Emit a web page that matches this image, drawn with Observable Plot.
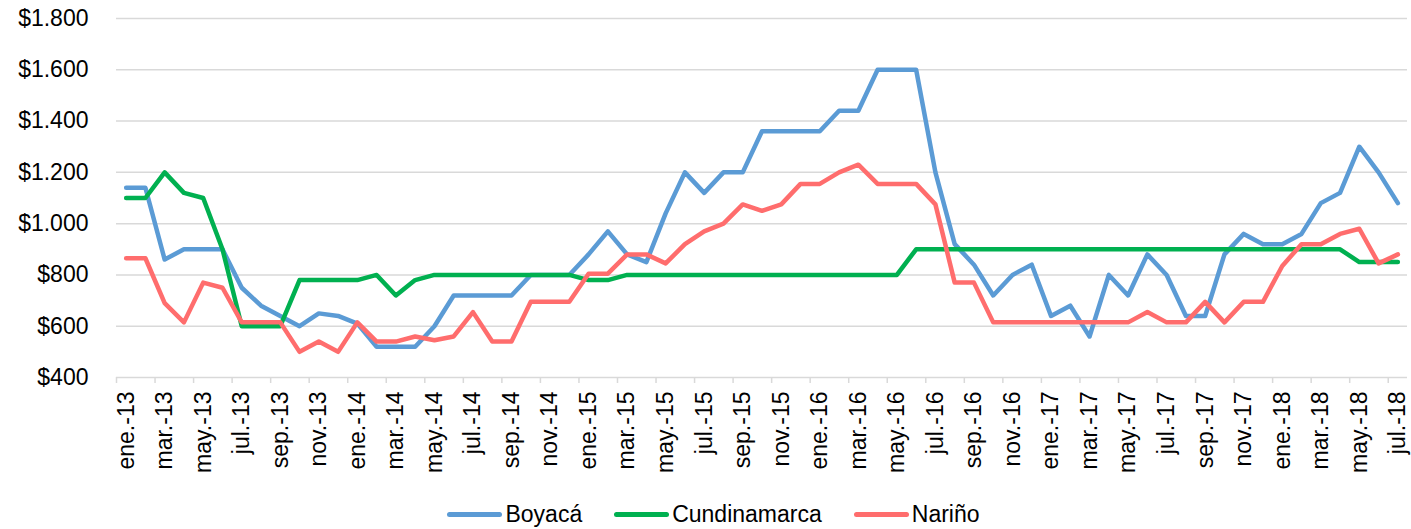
<!DOCTYPE html>
<html>
<head>
<meta charset="utf-8">
<script src="https://cdn.jsdelivr.net/npm/d3@7"></script>
<script src="https://cdn.jsdelivr.net/npm/@observablehq/plot@0.6"></script>
<style>
  html, body { margin: 0; padding: 0; background: #fff; }
  body { width: 1411px; height: 529px; overflow: hidden; font-family: "Liberation Sans", Arial, sans-serif; }
  #legend { display: flex; justify-content: center; align-items: center; height: 29px; font-size: 23px; color: #000; padding-left: 16px; }
  .item { display: flex; align-items: center; margin: 0 16px; }
  .sw { display: inline-block; width: 55px; height: 5px; border-radius: 3px; margin-right: 3px; }
</style>
</head>
<body>
<div id="chart"></div>
<div id="legend"></div>
<script>
const monthNames = ["ene.","feb.","mar.","abr.","may.","jun.","jul.","ago.","sep.","oct.","nov.","dic."];
const years = ["13","14","15","16","17","18"];
const labels = years.flatMap(y => monthNames.map(m => `${m}-${y}`)).slice(0, 67);

const seriesNames = ["Boyacá", "Cundinamarca", "Nariño"];
const colors = ["#5b9bd5", "#00b050", "#ff6d6d"];

const boyaca = [1140,1140,860,900,900,900,750,680,640,600,650,640,
  610,520,520,520,600,720,720,720,720,800,800,800,
  880,970,880,850,1040,1200,1120,1200,1200,1360,1360,1360,
  1360,1440,1440,1600,1600,1600,1200,920,840,720,800,840,
  640,680,560,800,720,880,800,640,640,880,960,920,
  920,960,1080,1120,1300,1200,1080];
const cundinamarca = [1100,1100,1200,1120,1100,900,600,600,600,780,780,780,
  780,800,720,780,800,800,800,800,800,800,800,800,
  780,780,800,800,800,800,800,800,800,800,800,800,
  800,800,800,800,800,900,900,900,900,900,900,900,
  900,900,900,900,900,900,900,900,900,900,900,900,
  900,900,900,900,850,850,850];
const narino = [865,865,690,615,770,750,615,615,615,500,540,500,
  615,540,540,560,545,560,655,540,540,695,695,695,
  805,805,880,880,845,920,970,1000,1075,1050,1075,1155,
  1155,1200,1230,1155,1155,1155,1075,770,770,615,615,615,
  615,615,615,615,615,655,615,615,695,615,695,695,
  835,920,920,960,980,845,880];

const yTicks = [400,600,800,1000,1200,1400,1600,1800];

const seriesValues = [boyaca, cundinamarca, narino];
const data = seriesNames.flatMap((s, k) => seriesValues[k].map((v, i) => ({i, series: s, value: v})));

const boundaries = d3.range(0, 67, 2).map(i => i - 0.5);
const labelIdx = d3.range(0, 67, 2);
const fmt = d => "$" + d3.format(",")(d).replace(/,/g, ".");

const chart = Plot.plot({
  width: 1411,
  height: 500,
  marginLeft: 116,
  marginRight: 4,
  marginTop: 18,
  marginBottom: 123,
  style: {fontFamily: "'Liberation Sans', Arial, sans-serif", fontSize: "23px", color: "#000", background: "#fff"},
  x: {type: "linear", domain: [-0.5, 66.5]},
  y: {domain: [400, 1800]},
  color: {domain: seriesNames, range: colors},
  marks: [
    Plot.gridY({ticks: yTicks, stroke: "#d9d9d9", strokeOpacity: 1, strokeWidth: 1.5}),
    Plot.axisY({ticks: yTicks, tickSize: 0, tickPadding: 28, tickFormat: fmt, label: null, fontSize: 23}),
    Plot.axisX({ticks: boundaries, tickSize: 6, tickFormat: () => "", stroke: "#d9d9d9", strokeOpacity: 1, strokeWidth: 1.5, label: null}),
    Plot.axisX({ticks: labelIdx, tickSize: 0, tickPadding: 14, tickRotate: -90, tickFormat: i => labels[i], label: null, fontSize: 23}),
    Plot.line(data, {x: "i", y: "value", z: "series", stroke: "series", strokeWidth: 4.5, strokeLinecap: "round", strokeLinejoin: "round"})
  ]
});
document.getElementById("chart").appendChild(chart);

const legend = document.getElementById("legend");
seriesNames.forEach((s, k) => {
  const item = document.createElement("div");
  item.className = "item";
  const sw = document.createElement("span");
  sw.className = "sw";
  sw.style.background = colors[k];
  item.appendChild(sw);
  const t = document.createElement("span");
  t.textContent = s;
  item.appendChild(t);
  legend.appendChild(item);
});
</script>
</body>
</html>
